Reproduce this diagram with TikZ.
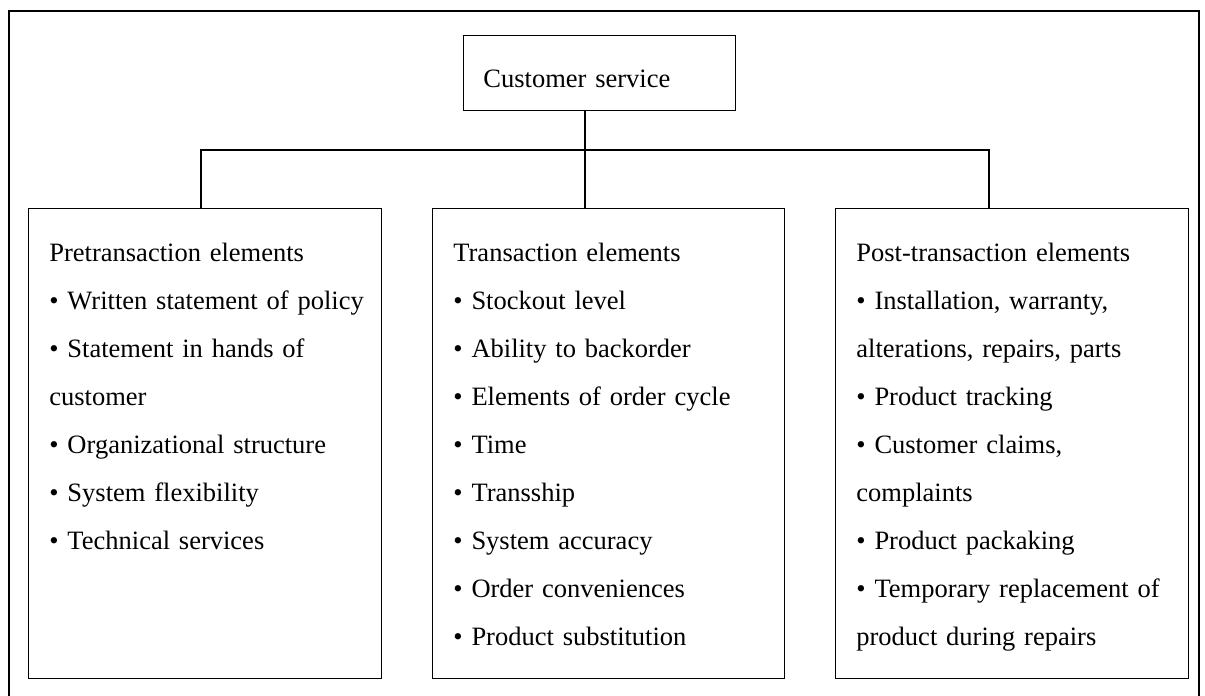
\documentclass[tikz,border=0pt]{standalone}
\usepackage{fontspec}
\setmainfont{Liberation Serif}
\usetikzlibrary{calc}
\tikzset{
  frame/.style={draw, line width=0.6pt},
  elbox/.style={draw, line width=0.7pt, inner sep=0pt, anchor=north west},
  link/.style={line width=0.6pt},
  lab/.style={font=\fontsize{13.25}{24}\selectfont, inner sep=0pt, anchor=base west,
    align=left, text width=172pt},
}

\begin{document}
\begin{tikzpicture}[x=0.5pt,y=-0.5pt]
\useasboundingbox (0,0) rectangle (1205,696);

% ===================== outer frame =====================
\draw[frame] (9,11) rectangle (1199,720);

% ===================== top box =====================
\node[elbox, minimum width=136pt, minimum height=37.5pt] (cs) at (463,35) {};
\node[lab] (cslab) at ($(cs.north west)+(20,52)$) {Customer service};

% ===================== three element boxes =====================
\node[elbox, minimum width=176.5pt, minimum height=235pt] (pre) at (28,208) {};
\node[elbox, minimum width=176pt, minimum height=235pt] (tra) at (432,208) {};
\node[elbox, minimum width=176.5pt, minimum height=235pt] (post) at (835,208) {};

\node[lab] (prelab) at ($(pre.north west)+(21,53)$)
  {Pretransaction elements\\
   \textbullet\ Written statement of policy\\
   \textbullet\ Statement in hands of\\
   customer\\
   \textbullet\ Organizational structure\\
   \textbullet\ System flexibility\\
   \textbullet\ Technical services};
\node[lab] (tralab) at ($(tra.north west)+(21,53)$)
  {Transaction elements\\
   \textbullet\ Stockout level\\
   \textbullet\ Ability to backorder\\
   \textbullet\ Elements of order cycle\\
   \textbullet\ Time\\
   \textbullet\ Transship\\
   \textbullet\ System accuracy\\
   \textbullet\ Order conveniences\\
   \textbullet\ Product substitution};
\node[lab] (postlab) at ($(post.north west)+(21,53)$)
  {Post-transaction elements\\
   \textbullet\ Installation, warranty,\\
   alterations, repairs, parts\\
   \textbullet\ Product tracking\\
   \textbullet\ Customer claims,\\
   complaints\\
   \textbullet\ Product packaking\\
   \textbullet\ Temporary replacement of\\
   product during repairs};

% ===================== connectors =====================
\coordinate (busL) at (201,150);
\coordinate (busM) at (585,150);
\coordinate (busR) at (989,150);
\draw[link] (cs.south -| busM) -- (busM |- tra.north);
\draw[link] (busL |- pre.north) -- (busL) -- (busR) -- (busR |- post.north);

\end{tikzpicture}
\end{document}
